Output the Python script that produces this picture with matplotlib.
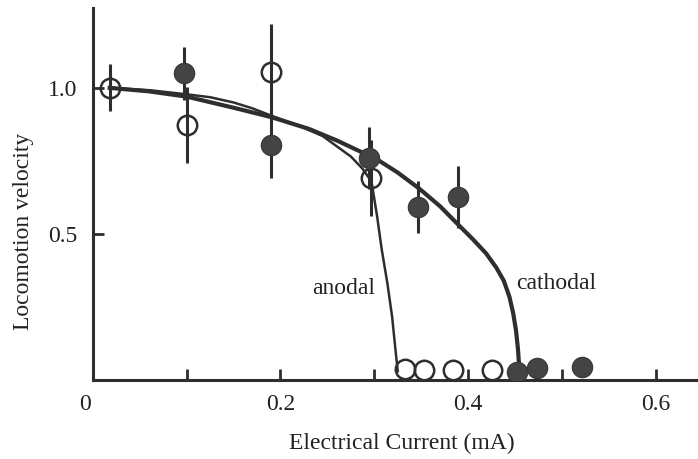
import numpy as np
import matplotlib.pyplot as plt
import matplotlib.transforms as mtransforms

plt.rcParams['font.family'] = ['Liberation Serif', 'DejaVu Serif']

# anodal stimulation (open circles)
anodal_x = [0.018, 0.100, 0.190, 0.297, 0.333, 0.353, 0.384, 0.425]
anodal_y = [1.000, 0.873, 1.055, 0.690, 0.038, 0.035, 0.035, 0.035]
anodal_err = [0.08, 0.13, 0.165, 0.13, 0, 0, 0, 0]

# cathodal stimulation (filled circles)
cathodal_x = [0.097, 0.190, 0.294, 0.347, 0.389, 0.452, 0.473, 0.521]
cathodal_y = [1.050, 0.805, 0.760, 0.592, 0.627, 0.027, 0.040, 0.045]
cathodal_err = [0.09, 0.115, 0.105, 0.09, 0.105, 0, 0, 0]

# fitted curves
anodal_fit_x = [0.018, 0.060, 0.100, 0.125, 0.150, 0.170, 0.190, 0.220, 0.245,
                0.260, 0.275, 0.287, 0.297, 0.303, 0.308, 0.314, 0.319, 0.323, 0.325]
anodal_fit_y = [1.000, 0.992, 0.978, 0.968, 0.950, 0.930, 0.905, 0.870, 0.835,
                0.800, 0.765, 0.725, 0.680, 0.560, 0.445, 0.330, 0.216, 0.090, 0.030]
cathodal_fit_x = [0.018, 0.060, 0.100, 0.150, 0.190, 0.230, 0.260, 0.303, 0.325,
                  0.348, 0.370, 0.390, 0.405, 0.419, 0.430, 0.438, 0.444, 0.448,
                  0.451, 0.453, 0.455]
cathodal_fit_y = [1.000, 0.988, 0.970, 0.932, 0.900, 0.860, 0.820, 0.755, 0.710,
                  0.655, 0.595, 0.530, 0.482, 0.434, 0.385, 0.340, 0.285, 0.229,
                  0.170, 0.110, 0.020]

ink = '#2e2e2e'

fig = plt.figure(figsize=(6.98, 4.59), dpi=100)
ax = fig.add_axes([0.133, 0.172, 0.867, 0.811])

ax.plot(anodal_fit_x, anodal_fit_y, color=ink, lw=1.8, zorder=2)
ax.plot(cathodal_fit_x, cathodal_fit_y, color=ink, lw=3.0, zorder=2,
        solid_joinstyle='round')

ax.errorbar(anodal_x, anodal_y, yerr=anodal_err, fmt='none', ecolor=ink,
            elinewidth=2.2, capsize=0, zorder=3)
ax.errorbar(cathodal_x, cathodal_y, yerr=cathodal_err, fmt='none', ecolor=ink,
            elinewidth=2.2, capsize=0, zorder=3)

ax.plot(anodal_x, anodal_y, 'o', ms=14, mfc='none', mec=ink, mew=1.8, zorder=4)
ax.plot(cathodal_x, cathodal_y, 'o', ms=14.5, mfc='#444444', mec='#3a3a3a',
        mew=1.0, zorder=5)

ax.text(0.267, 0.315, 'anodal', fontsize=17, ha='center', va='center', color='#222222')
ax.text(0.494, 0.332, 'cathodal', fontsize=17, ha='center', va='center', color='#222222')

ax.set_xlim(0, 0.645)
ax.set_ylim(0, 1.274)
ax.set_xticks([0, 0.1, 0.2, 0.3, 0.4, 0.5, 0.6])
ax.set_xticklabels(['0', '', '0.2', '', '0.4', '', '0.6'])
ax.set_yticks([0.5, 1.0])
ax.set_yticklabels(['0.5', '1.0'])
ax.tick_params(direction='in', length=8, width=2, color=ink,
               labelsize=17, labelcolor='#222222')
ax.tick_params(axis='x', pad=10)
ax.tick_params(axis='y', pad=11)

# the "0" label sits a little left of the vertical axis
zero_lbl = ax.get_xticklabels()[0]
zero_lbl.set_transform(zero_lbl.get_transform() +
                       mtransforms.ScaledTranslation(-8 / 100, 0, fig.dpi_scale_trans))

for side in ['top', 'right']:
    ax.spines[side].set_visible(False)
for side in ['left', 'bottom']:
    ax.spines[side].set_linewidth(2.2)
    ax.spines[side].set_color(ink)

ax.set_xlabel('Electrical Current (mA)', fontsize=17, color='#222222')
ax.set_ylabel('Locomotion velocity', fontsize=17, color='#222222')
ax.xaxis.set_label_coords(0.51, -0.143)
ax.yaxis.set_label_coords(-0.097, 0.4)

fig.savefig('out.png', dpi=100)
